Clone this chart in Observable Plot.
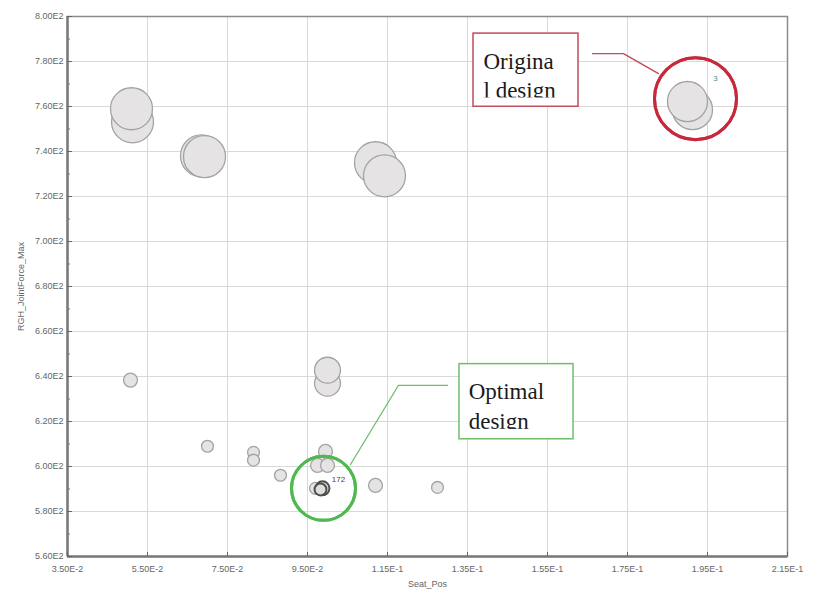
<!DOCTYPE html>
<html>
<head>
<meta charset="utf-8">
<script src="https://cdn.jsdelivr.net/npm/d3@7"></script>
<script src="https://cdn.jsdelivr.net/npm/@observablehq/plot@0.6"></script>
<style>
  html, body { margin: 0; padding: 0; background: #fff; }
  #chart svg { display: block; }
</style>
</head>
<body>
<div id="chart"></div>
<script>
// Design runs: seat position vs. maximum joint force; bubble area = response magnitude
const seatPos       = [0.05125, 0.0510, 0.0685, 0.06925, 0.1120, 0.11425, 0.19125, 0.1900,
                       0.1000, 0.1000,
                       0.05075, 0.0700, 0.0815, 0.0815, 0.08825, 0.0995, 0.0975, 0.1000,
                       0.0970, 0.09825, 0.09875, 0.1120, 0.1275];
const jointForceMax = [753.2, 759.0, 738.1, 737.7, 735.0, 729.2, 758.6, 762.2,
                       637.0, 642.8,
                       638.4, 609.0, 606.3, 602.8, 596.1, 606.7, 600.5, 600.5,
                       590.3, 589.8, 590.3, 591.6, 590.7];
const bubbleSize    = [100, 100, 100, 100, 100, 100, 91, 91,
                       38, 38,
                       11, 8, 8, 8, 8, 11, 11, 11,
                       8, 8, 11, 11, 8];
const runLabel      = ["", "", "", "", "", "", "", "3",
                       "", "",
                       "", "", "", "", "", "", "", "",
                       "", "172", "172", "", ""];

// Axis ticks
const xTicks = [0.035, 0.055, 0.075, 0.095, 0.115, 0.135, 0.155, 0.175, 0.195, 0.215];
const yTicks = [560, 580, 600, 620, 640, 660, 680, 700, 720, 740, 760, 780, 800];
const yMinorTicks = [570, 590, 610, 630, 650, 670, 690, 710, 730, 750, 770, 790];

// Callouts
const originalRun = "3";
const optimalRun = "172";
const originalCallout = {
  text: "Origina\nl design",
  box: {x1: 0.1365, x2: 0.16275, y1: 759.9, y2: 792.4},
  mask: {x1: 0.137, x2: 0.1623, y1: 760.4, y2: 763.8},
  textAt: {x: 0.139, y: 774.4},
  leader: [{x: 0.16625, y: 783.5}, {x: 0.174, y: 783.5}, {x: 0.18275, y: 774.6}],
  ring: {x: 0.192, y: 763.5, r: 41}
};
const optimalCallout = {
  text: "Optimal\ndesign",
  box: {x1: 0.133, x2: 0.1615, y1: 612.1, y2: 645.5},
  mask: {x1: 0.1335, x2: 0.161, y1: 612.6, y2: 616.5},
  textAt: {x: 0.1353, y: 627.6},
  leader: [{x: 0.130, y: 636.1}, {x: 0.11775, y: 636.1}, {x: 0.10575, y: 600.9}],
  ring: {x: 0.099, y: 590.3, r: 32}
};

const runs = seatPos.map((x, i) => ({
  x, y: jointForceMax[i], size: bubbleSize[i], label: runLabel[i]
}));
const labelled = runs.filter((d, i) => d.label && runs.findIndex(e => e.label === d.label) === i);

const fmtE = v => v.toExponential(2).toUpperCase().replace("E+", "E");
const sans = "'Liberation Sans', Arial, sans-serif";
const serif = "'Liberation Serif', 'Times New Roman', serif";

function callout(c, color) {
  return [
    Plot.dot([c.ring], {x: "x", y: "y", r: c.ring.r, stroke: color, strokeWidth: 3, fill: "none"}),
    Plot.line(c.leader, {x: "x", y: "y", stroke: color, strokeWidth: 1.3}),
    Plot.rect([c.box], {x1: "x1", x2: "x2", y1: "y1", y2: "y2", fill: "white", stroke: color, strokeWidth: 1.5}),
    Plot.text([c.textAt], {x: "x", y: "y", text: () => c.text, textAnchor: "start",
      fontFamily: serif, fontSize: 23, lineHeight: 1.28, fill: "#1a1a1a",
      style: "letter-spacing: 1px"}),
    Plot.rect([c.mask], {x1: "x1", x2: "x2", y1: "y1", y2: "y2", fill: "white"})
  ];
}

const chart = Plot.plot({
  width: 817,
  height: 591,
  marginLeft: 67,
  marginRight: 30,
  marginTop: 16,
  marginBottom: 35,
  style: {background: "white", fontFamily: sans},
  x: {domain: [0.035, 0.215]},
  y: {domain: [560, 800]},
  r: {type: "sqrt", domain: [0, 100], range: [0, 21]},
  marks: [
    Plot.gridX(xTicks, {stroke: "#d9d9d9", strokeOpacity: 1}),
    Plot.gridY(yTicks, {stroke: "#d9d9d9", strokeOpacity: 1}),
    Plot.frame({stroke: "#8c8c8c", strokeWidth: 1.5}),
    Plot.ruleX([0.035], {stroke: "#7a7a7a", strokeWidth: 2.5}),
    Plot.ruleY([560], {stroke: "#7a7a7a", strokeWidth: 2.5}),
    Plot.axisX({ticks: xTicks, tickFormat: fmtE, tickSize: -4, tickPadding: 13,
      fontSize: 9, color: "#666", label: "Seat_Pos", labelAnchor: "center",
      labelArrow: "none", labelOffset: 30}),
    Plot.axisY({ticks: yTicks, tickFormat: fmtE, tickSize: -5, tickPadding: 9,
      fontSize: 9, color: "#666", label: "RGH_JointForce_Max", labelAnchor: "center",
      labelArrow: "none", labelOffset: 50}),
    Plot.axisY({ticks: yMinorTicks, tickFormat: () => "", tickSize: -3, color: "#777", label: null}),
    Plot.dot(runs.filter(d => d.label !== optimalRun), {
      x: "x", y: "y", r: "size", fill: "#e5e3e3", stroke: "#a3a3a3", strokeWidth: 1.3
    }),
    Plot.dot(runs.filter(d => d.label === optimalRun), {
      x: "x", y: "y", r: "size", fill: "#dedede", stroke: "#4d4d4d", strokeWidth: 2
    }),
    Plot.text(labelled.filter(d => d.label === originalRun), {x: "x", y: "y", text: "label",
      dx: 28, dy: -23, fontSize: 8, fill: "#4f8a80"}),
    Plot.text(labelled.filter(d => d.label === optimalRun), {x: "x", y: "y", text: "label",
      dx: 18, dy: -10, fontSize: 8, fill: "#444"}),
    ...callout(originalCallout, "#c24a5c"),
    Plot.dot([originalCallout.ring], {x: "x", y: "y", r: originalCallout.ring.r, stroke: "#c8283a", strokeWidth: 3, fill: "none"}),
    ...callout(optimalCallout, "#6cc06c"),
    Plot.dot([optimalCallout.ring], {x: "x", y: "y", r: optimalCallout.ring.r, stroke: "#4fb84f", strokeWidth: 3, fill: "none"})
  ]
});

document.getElementById("chart").appendChild(chart);
</script>
</body>
</html>
